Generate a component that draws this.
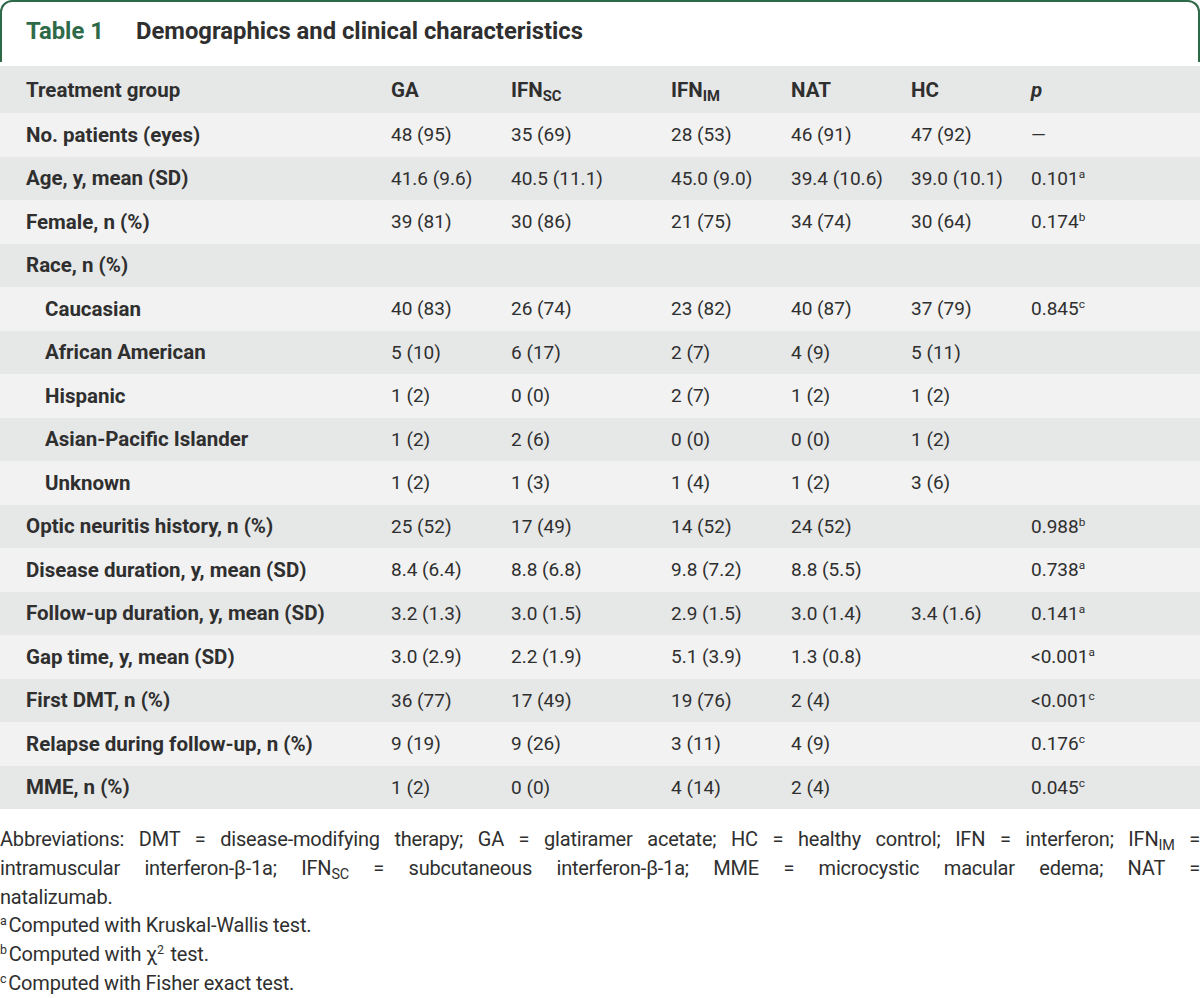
import React from 'react';

// column headers (sub = subscript part)
const columnNames = ['GA', 'IFN', 'IFN', 'NAT', 'HC', 'p'];
const columnSubs = ['', 'SC', 'IM', '', '', ''];
const columnWidths = [120, 160, 120, 120, 120, 169];

const rowLabels = [
  'No. patients (eyes)',
  'Age, y, mean (SD)',
  'Female, n (%)',
  'Race, n (%)',
  'Caucasian',
  'African American',
  'Hispanic',
  'Asian-Pacific Islander',
  'Unknown',
  'Optic neuritis history, n (%)',
  'Disease duration, y, mean (SD)',
  'Follow-up duration, y, mean (SD)',
  'Gap time, y, mean (SD)',
  'First DMT, n (%)',
  'Relapse during follow-up, n (%)',
  'MME, n (%)',
];
const indentedRows = [4, 5, 6, 7, 8];

const gaValues = ['48 (95)', '41.6 (9.6)', '39 (81)', '', '40 (83)', '5 (10)', '1 (2)', '1 (2)', '1 (2)', '25 (52)', '8.4 (6.4)', '3.2 (1.3)', '3.0 (2.9)', '36 (77)', '9 (19)', '1 (2)'];
const ifnScValues = ['35 (69)', '40.5 (11.1)', '30 (86)', '', '26 (74)', '6 (17)', '0 (0)', '2 (6)', '1 (3)', '17 (49)', '8.8 (6.8)', '3.0 (1.5)', '2.2 (1.9)', '17 (49)', '9 (26)', '0 (0)'];
const ifnImValues = ['28 (53)', '45.0 (9.0)', '21 (75)', '', '23 (82)', '2 (7)', '2 (7)', '0 (0)', '1 (4)', '14 (52)', '9.8 (7.2)', '2.9 (1.5)', '5.1 (3.9)', '19 (76)', '3 (11)', '4 (14)'];
const natValues = ['46 (91)', '39.4 (10.6)', '34 (74)', '', '40 (87)', '4 (9)', '1 (2)', '0 (0)', '1 (2)', '24 (52)', '8.8 (5.5)', '3.0 (1.4)', '1.3 (0.8)', '2 (4)', '4 (9)', '2 (4)'];
const hcValues = ['47 (92)', '39.0 (10.1)', '30 (64)', '', '37 (79)', '5 (11)', '1 (2)', '1 (2)', '3 (6)', '', '', '3.4 (1.6)', '', '', '', ''];
const pValues = ['—', '0.101', '0.174', '', '0.845', '', '', '', '', '0.988', '0.738', '0.141', '<0.001', '<0.001', '0.176', '0.045'];
const pNotes = ['', 'a', 'b', '', 'c', '', '', '', '', 'b', 'a', 'a', 'a', 'c', 'c', 'c'];

const footnoteLetters = ['a', 'b', 'c'];

const GREEN = '#2e6a48';
const TEXT = '#2f2f2f';
const DARK_ROW = '#e6e7e7';
const LIGHT_ROW = '#f2f2f2';

const font = 'Roboto, "Liberation Sans", sans-serif';

// raised / lowered text that does not grow the line box
function Sub({ children }: { children: React.ReactNode }) {
  return <span style={{ fontSize: '0.72em', position: 'relative', top: '0.3em', lineHeight: 0 }}>{children}</span>;
}

function Sup({ children }: { children: React.ReactNode }) {
  return <span style={{ fontSize: '0.62em', position: 'relative', top: '-0.6em', lineHeight: 0, marginRight: 2 }}>{children}</span>;
}

export default function App() {
  const series = [gaValues, ifnScValues, ifnImValues, natValues, hcValues];
  const labelStyle = { fontSize: 20.5, fontWeight: 700 } as const;
  const valueStyle = { fontSize: 19 } as const;

  return (
    <div style={{ position: 'absolute', left: 0, top: 0, width: 1200, height: 998, background: '#fff', fontFamily: font, color: TEXT, overflow: 'hidden' }}>
      {/* title frame */}
      <div
        style={{
          position: 'absolute', left: 0, top: 0, width: 1200, height: 62, boxSizing: 'border-box',
          borderTop: `2.5px solid ${GREEN}`, borderLeft: `2.5px solid ${GREEN}`, borderRight: `2.5px solid ${GREEN}`,
          borderRadius: '12px 12px 0 0',
        }}
      />
      <div style={{ position: 'absolute', left: 26, top: 17, fontSize: 23.8, fontWeight: 700, color: GREEN, lineHeight: '28px' }}>Table 1</div>
      <div style={{ position: 'absolute', left: 136, top: 17, fontSize: 23.8, fontWeight: 700, color: TEXT, lineHeight: '28px' }}>
        Demographics and clinical characteristics
      </div>

      {/* header row */}
      <div style={{ position: 'absolute', left: 0, top: 66, width: 1200, height: 47, background: DARK_ROW, display: 'flex', alignItems: 'center', ...labelStyle }}>
        <div style={{ width: 391, paddingLeft: 26, boxSizing: 'border-box' }}>Treatment group</div>
        {columnNames.map((name, i) => (
          <div key={i} style={{ width: columnWidths[i], fontStyle: name === 'p' ? 'italic' : 'normal' }}>
            {name}
            {columnSubs[i] && <Sub>{columnSubs[i]}</Sub>}
          </div>
        ))}
      </div>

      {/* body rows */}
      <div style={{ position: 'absolute', left: 0, top: 113, width: 1200 }}>
        {rowLabels.map((label, r) => (
          <div
            key={label}
            style={{ height: 43.5, background: r % 2 === 0 ? LIGHT_ROW : DARK_ROW, display: 'flex', alignItems: 'center' }}
          >
            <div style={{ width: 391, paddingLeft: indentedRows.includes(r) ? 45 : 26, boxSizing: 'border-box', ...labelStyle }}>{label}</div>
            {series.map((vals, c) => (
              <div key={c} style={{ width: columnWidths[c], ...valueStyle }}>{vals[r]}</div>
            ))}
            <div style={{ width: columnWidths[5], ...valueStyle }}>
              {pValues[r]}
              {pNotes[r] && <Sup>{pNotes[r]}</Sup>}
            </div>
          </div>
        ))}
      </div>

      {/* footnotes */}
      <div style={{ position: 'absolute', left: 0, top: 825, width: 1200, fontSize: 20, lineHeight: '28.8px', letterSpacing: -0.2 }}>
        <div style={{ textAlign: 'justify', textAlignLast: 'justify' }}>
          Abbreviations: DMT = disease-modifying therapy; GA = glatiramer acetate; HC = healthy control; IFN = interferon; IFN<Sub>IM</Sub> =
        </div>
        <div style={{ textAlign: 'justify', textAlignLast: 'justify' }}>
          intramuscular interferon-β-1a; IFN<Sub>SC</Sub> = subcutaneous interferon-β-1a; MME = microcystic macular edema; NAT =
        </div>
        <div>natalizumab.</div>
        <div><Sup>{footnoteLetters[0]}</Sup>Computed with Kruskal-Wallis test.</div>
        <div><Sup>{footnoteLetters[1]}</Sup>Computed with χ<Sup>2</Sup> test.</div>
        <div><Sup>{footnoteLetters[2]}</Sup>Computed with Fisher exact test.</div>
      </div>
    </div>
  );
}
